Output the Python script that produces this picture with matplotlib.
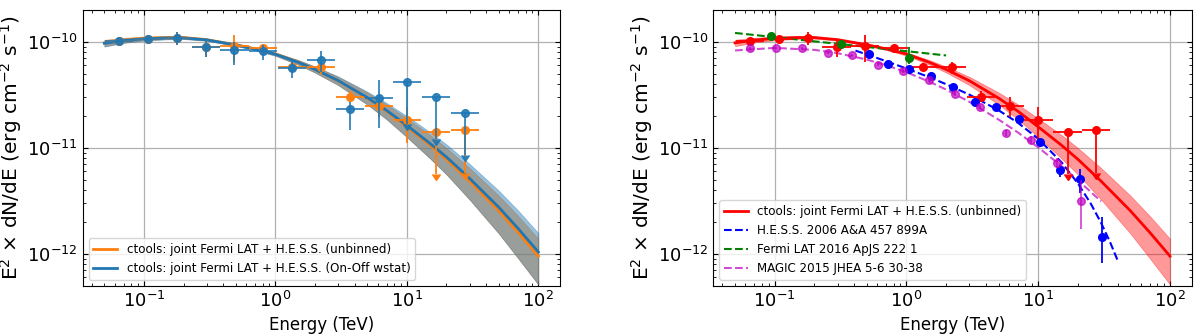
import matplotlib as mpl
mpl.use('Agg')
import matplotlib.pyplot as plt
import numpy as np

UNIT = 1e-10          # flux points are listed in units of 1e-10 erg/cm2/s
BIN_DEX = 0.107       # half width of the energy bins (decades)
UL_DROP = 0.6         # length of the upper-limit arrows, fraction of value

# ---- spectral points, joint fit (unbinned) ----
e_pts = [0.065, 0.107, 0.178, 0.295, 0.488, 0.81, 1.345, 2.23, 3.68, 6.1,
         10.05, 16.7, 27.6]
f_unb = [1.016, 1.06, 1.095, 0.897, 0.91, 0.872, 0.58, 0.578, 0.305, 0.248,
         0.183, 0.141, 0.146]
lo_unb = [0.02, 0.025, 0.15, 0.18, 0.26, 0.09, 0.05, 0.075, 0.035, 0.051,
          0.073, 0, 0]
hi_unb = [0.02, 0.025, 0.14, 0.14, 0.25, 0.064, 0.05, 0.07, 0.04, 0.056,
          0.061, 0, 0]
ul_unb = [False] * 11 + [True, True]

# ---- spectral points, joint fit (On-Off wstat) ----
f_onoff = [1.016, 1.06, 1.09, 0.897, 0.835, 0.82, 0.565, 0.672, 0.232, 0.297,
           0.42, 0.303, 0.213]
lo_onoff = [0.025, 0.03, 0.16, 0.18, 0.23, 0.15, 0.113, 0.15, 0.085, 0.144,
            0, 0, 0]
hi_onoff = [0.025, 0.03, 0.15, 0.14, 0.17, 0.11, 0.107, 0.15, 0.04, 0.138,
            0, 0, 0]
ul_onoff = [False] * 10 + [True, True, True]

# ---- fitted model curves ----
e_model = [0.05, 0.07, 0.1, 0.15, 0.2, 0.3, 0.5, 0.7, 1, 1.5, 2, 3, 5, 7, 10,
           15, 20, 30, 50, 70, 100]
m_unb = [0.98, 1.04, 1.08, 1.10, 1.10, 1.05, 0.94, 0.86, 0.77, 0.64, 0.55,
         0.43, 0.295, 0.222, 0.158, 0.106, 0.078, 0.0485, 0.0255, 0.016,
         0.0095]
m_onoff = [0.97, 1.03, 1.07, 1.09, 1.09, 1.045, 0.935, 0.855, 0.765, 0.64,
           0.55, 0.432, 0.298, 0.226, 0.163, 0.11, 0.082, 0.0515, 0.0275,
           0.0174, 0.0104]
# relative 1-sigma width of the butterflies
r_unb = [0.07, 0.05, 0.04, 0.03, 0.025, 0.02, 0.02, 0.025, 0.035, 0.05, 0.065,
         0.09, 0.13, 0.16, 0.2, 0.25, 0.28, 0.33, 0.39, 0.43, 0.46]
r_onoff = [0.07, 0.05, 0.04, 0.03, 0.025, 0.02, 0.02, 0.025, 0.035, 0.05,
           0.066, 0.094, 0.139, 0.175, 0.225, 0.277, 0.315, 0.369, 0.434,
           0.476, 0.507]

# ---- published spectra ----
e_hess = [0.517, 0.725, 1.04, 1.53, 2.27, 3.3, 4.82, 7.13, 10.3, 14.6, 20.7,
          30.3]
f_hess = [0.777, 0.625, 0.561, 0.474, 0.376, 0.268, 0.244, 0.188, 0.114,
          0.0616, 0.0507, 0.0143]
lo_hess = [0.03, 0.02, 0.015, 0.012, 0.01, 0.008, 0.008, 0.007, 0.006, 0.008,
           0.013, 0.0062]
hi_hess = [0.03, 0.02, 0.015, 0.012, 0.01, 0.008, 0.008, 0.007, 0.006, 0.007,
           0.012, 0.008]
e_hess_model = [0.41, 0.6, 1, 1.5, 2, 3, 5, 7, 10, 15, 20, 25, 30, 35, 40]
m_hess = [0.828, 0.704, 0.561, 0.463, 0.399, 0.318, 0.2265, 0.1728, 0.1219,
          0.0733, 0.0462, 0.0299, 0.0196, 0.013, 0.0087]

e_fermi = [0.093, 0.316, 1.04]
f_fermi = [1.13, 0.947, 0.705]
lo_fermi = [0.02, 0.03, 0.09]
hi_fermi = [0.02, 0.03, 0.19]
e_fermi_model = [0.05, 0.3, 2.0]
m_fermi = [1.215, 0.96, 0.745]

e_magic = [0.0646, 0.103, 0.162, 0.254, 0.389, 0.608, 0.942, 1.48, 2.33, 3.6,
           5.68, 8.89, 13.8, 21.3]
f_magic = [0.867, 0.877, 0.877, 0.787, 0.75, 0.612, 0.532, 0.441, 0.321,
           0.244, 0.139, 0.118, 0.0721, 0.0314]
lo_magic = [0.02, 0.02, 0.02, 0.02, 0.02, 0.02, 0.02, 0.02, 0.015, 0.012,
            0.01, 0.01, 0.008, 0.0144]
hi_magic = [0.02, 0.02, 0.02, 0.02, 0.02, 0.02, 0.02, 0.02, 0.015, 0.012,
            0.01, 0.01, 0.008, 0.018]
e_magic_model = [0.05, 0.1, 0.2, 0.3, 0.5, 0.7, 1, 1.5, 2, 3, 5, 7, 10, 15,
                 20, 30]
m_magic = [0.830, 0.878, 0.841, 0.783, 0.681, 0.603, 0.517, 0.420, 0.355,
           0.272, 0.185, 0.140, 0.101, 0.0674, 0.0496, 0.0313]

LABEL_UNB = 'ctools: joint Fermi LAT + H.E.S.S. (unbinned)'
LABEL_ONOFF = 'ctools: joint Fermi LAT + H.E.S.S. (On-Off wstat)'


def plot_points(ax, e, f, lo, hi, ul, color, bins=True, zorder=4, alpha=1.0):
    e = np.asarray(e, float)
    f = np.asarray(f, float) * UNIT
    lo = np.asarray(lo, float) * UNIT
    hi = np.asarray(hi, float) * UNIT
    ul = np.asarray(ul, bool)
    fac = 10 ** BIN_DEX
    kw = dict(fmt='o', color=color, ms=5.5, elinewidth=1.3, zorder=zorder,
              alpha=alpha)
    ok = ~ul
    xerr = [e[ok] - e[ok] / fac, e[ok] * fac - e[ok]] if bins else None
    ax.errorbar(e[ok], f[ok], yerr=[lo[ok], hi[ok]], xerr=xerr, **kw)
    if ul.any():
        xerr = [e[ul] - e[ul] / fac, e[ul] * fac - e[ul]] if bins else None
        ax.errorbar(e[ul], f[ul], yerr=UL_DROP * f[ul], xerr=xerr,
                    uplims=True, **kw)


def plot_model(ax, e, m, rel, color, label, band_alpha):
    m = np.asarray(m) * UNIT
    rel = np.asarray(rel)
    ax.fill_between(e, m * (1 - rel), m * (1 + rel), color=color,
                    alpha=band_alpha, lw=0.5, zorder=2)
    line, = ax.plot(e, m, color=color, lw=2, label=label, zorder=3)
    return line


def style_axes(ax):
    ax.set_xscale('log')
    ax.set_yscale('log')
    ax.set_ylim(5e-13, 2e-10)
    ax.grid(True, which='major', color='#b0b0b0', lw=0.9)
    ax.tick_params(which='both', direction='in', top=True, right=True,
                   labelsize=13)
    ax.set_xlabel('Energy (TeV)', fontsize=12)
    ax.set_ylabel(r'E$^2$ $\times$ dN/dE (erg cm$^{-2}$ s$^{-1}$)',
                  fontsize=14.5, labelpad=2)


fig = plt.figure(figsize=(12, 3.35), dpi=100)
ax1 = fig.add_axes([0.0689, 0.1472, 0.3978, 0.8229])
ax2 = fig.add_axes([0.5944, 0.1472, 0.3987, 0.8229])

# left: unbinned vs On-Off
l1 = plot_model(ax1, e_model, m_unb, r_unb, 'C1', LABEL_UNB, 0.5)
l2 = plot_model(ax1, e_model, m_onoff, r_onoff, 'C0', LABEL_ONOFF, 0.45)
plot_points(ax1, e_pts, f_unb, lo_unb, hi_unb, ul_unb, 'C1', zorder=4)
plot_points(ax1, e_pts, f_onoff, lo_onoff, hi_onoff, ul_onoff, 'C0',
            zorder=5, alpha=0.9)
style_axes(ax1)
ax1.legend(handles=[l1, l2], loc='lower left', fontsize=8.6)

# right: comparison with published spectra
l3 = plot_model(ax2, e_model, m_unb, r_unb, 'red', LABEL_UNB, 0.4)
l4, = ax2.plot(e_hess_model, np.asarray(m_hess) * UNIT, 'b--', lw=1.5,
               label='H.E.S.S. 2006 A&A 457 899A', zorder=3)
l5, = ax2.plot(e_fermi_model, np.asarray(m_fermi) * UNIT, 'g--', lw=1.5,
               label='Fermi LAT 2016 ApJS 222 1', zorder=3)
l6, = ax2.plot(e_magic_model, np.asarray(m_magic) * UNIT, 'm--', lw=1.5,
               alpha=0.7, label='MAGIC 2015 JHEA 5-6 30-38', zorder=3)
plot_points(ax2, e_pts, f_unb, lo_unb, hi_unb, ul_unb, 'red', zorder=4)
plot_points(ax2, e_hess, f_hess, lo_hess, hi_hess, [False] * len(e_hess),
            'blue', bins=False, zorder=5)
plot_points(ax2, e_fermi, f_fermi, lo_fermi, hi_fermi, [False] * 3,
            'green', bins=False, zorder=6)
plot_points(ax2, e_magic, f_magic, lo_magic, hi_magic, [False] * len(e_magic),
            'm', bins=False, zorder=6, alpha=0.7)
style_axes(ax2)
ax2.legend(handles=[l3, l4, l5, l6], loc='lower left', fontsize=8.6)

fig.savefig('out.png', dpi=100)
